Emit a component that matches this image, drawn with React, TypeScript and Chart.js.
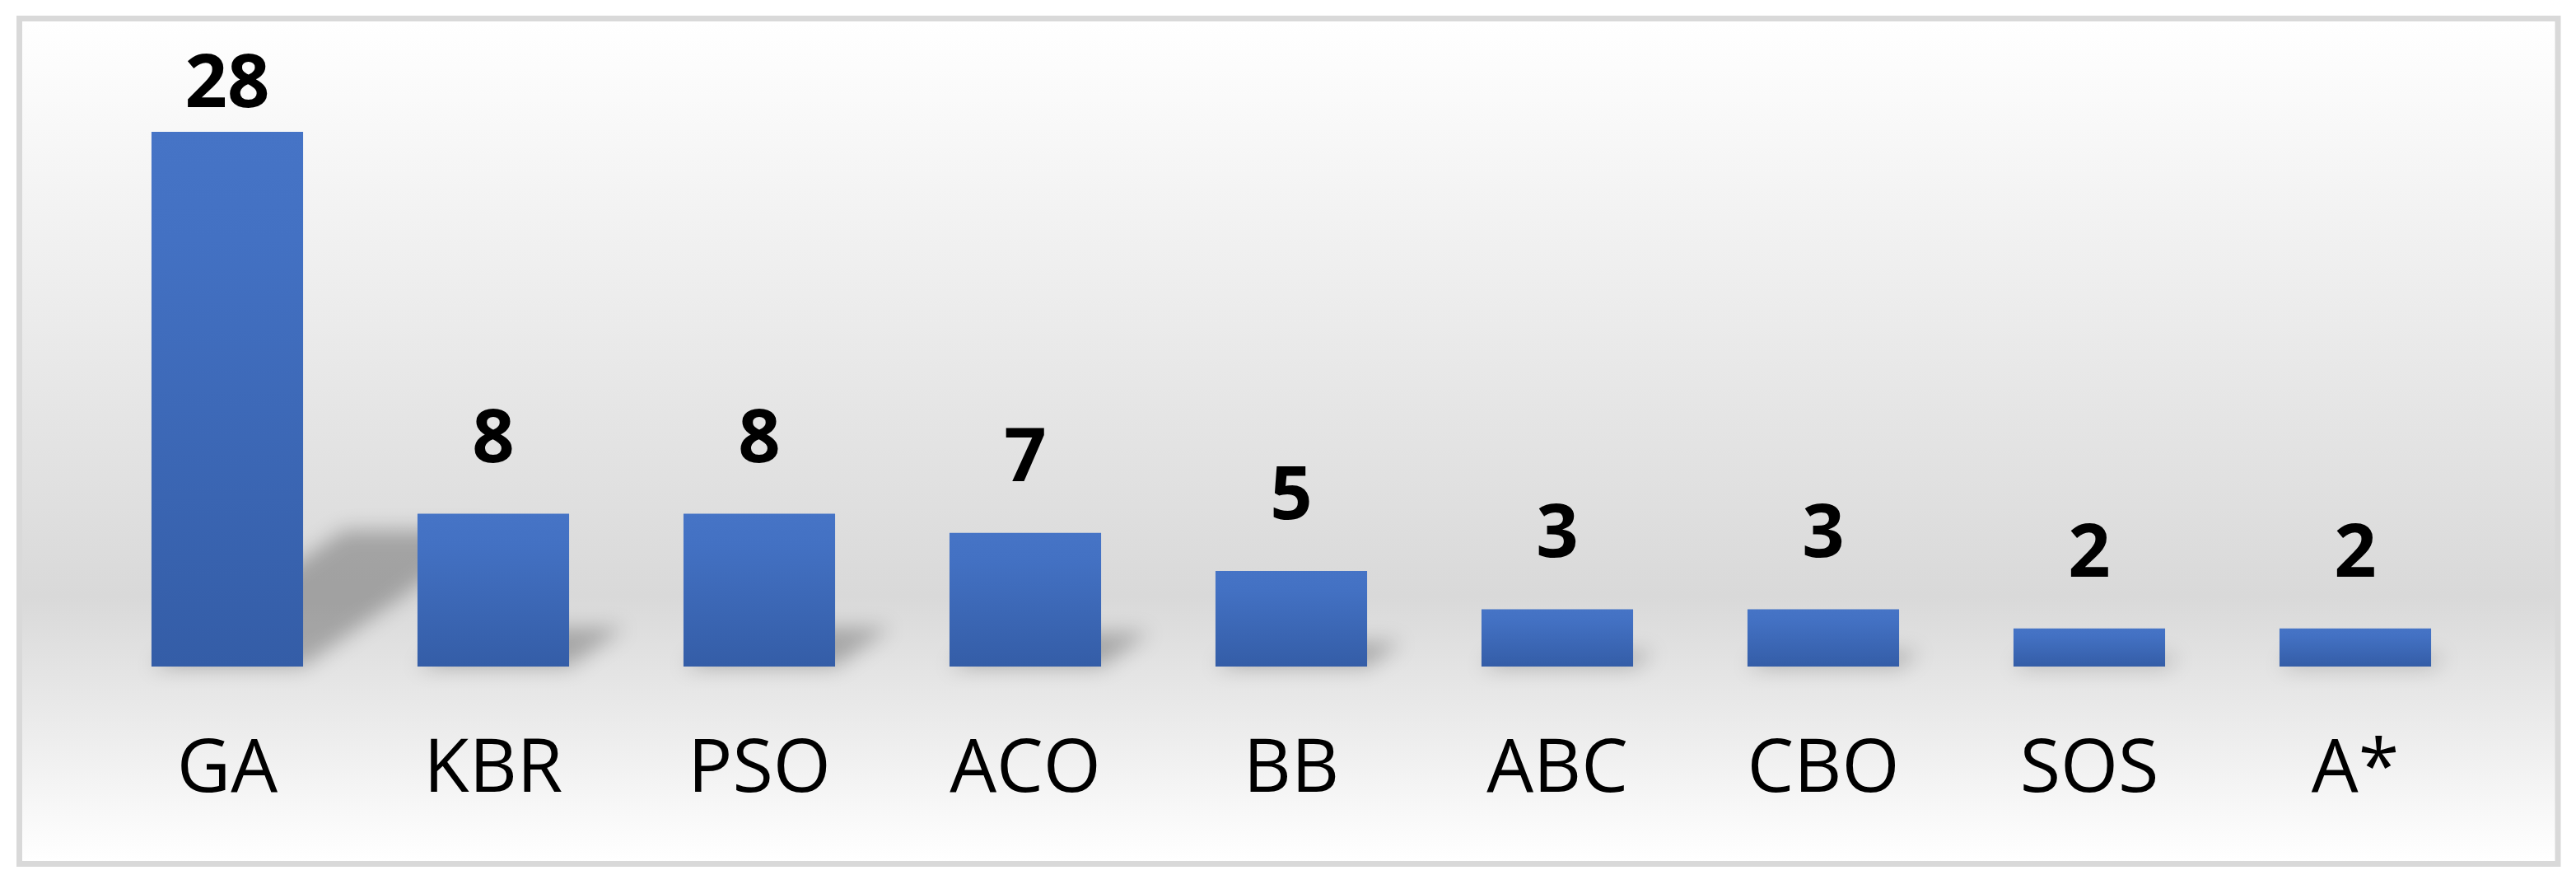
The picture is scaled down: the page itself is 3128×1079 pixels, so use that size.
import React, { useEffect, useRef } from "react";
import { Chart, registerables } from "chart.js";

Chart.register(...registerables);

const categories = ["GA", "KBR", "PSO", "ACO", "BB", "ABC", "CBO", "SOS", "A*"];
const counts = [28, 8, 8, 7, 5, 3, 3, 2, 2];
const yMin = 0;
const yMax = 28;

const W = 3128;
const H = 1079;
const FONT = "'Open Sans', 'Noto Sans', sans-serif";

const framePlugin = {
  id: "frame",
  beforeDraw(chart: any) {
    const ctx = chart.ctx;
    ctx.save();
    ctx.fillStyle = "#ffffff";
    ctx.fillRect(0, 0, W, H);
    const top = 26, bottom = 1045;
    const g = ctx.createLinearGradient(0, top, 0, bottom);
    g.addColorStop(0, "#ffffff");
    g.addColorStop(0.685, "#d9d9d9");
    g.addColorStop(1, "#ffffff");
    ctx.fillStyle = g;
    ctx.fillRect(26, top, 3103 - 26, bottom - top);
    ctx.strokeStyle = "#d9d9d9";
    ctx.lineWidth = 7;
    ctx.strokeRect(23.5, 22.5, 3106 - 23.5, 1048.5 - 22.5);
    ctx.restore();
  },
};

const shadowPlugin = {
  id: "barShadow",
  beforeDatasetsDraw(chart: any) {
    const ctx = chart.ctx;
    const meta = chart.getDatasetMeta(0);
    meta.data.forEach((bar: any) => {
      const { x, y, base, width } = bar.getProps(["x", "y", "base", "width"], true);
      const h = base - y;
      const L = x - width / 2;
      const R = x + width / 2;
      ctx.save();
      ctx.filter = "blur(12px)";
      ctx.fillStyle = "rgba(0,0,0,0.26)";
      ctx.beginPath();
      ctx.moveTo(L, base);
      ctx.lineTo(R, base);
      ctx.lineTo(R + 0.36 * h, base - 0.255 * h);
      ctx.lineTo(L + 0.36 * h, base - 0.255 * h);
      ctx.closePath();
      ctx.fill();
      ctx.restore();
    });
  },
};

const labelPlugin = {
  id: "valueLabels",
  afterDatasetsDraw(chart: any) {
    const ctx = chart.ctx;
    const meta = chart.getDatasetMeta(0);
    ctx.save();
    ctx.font = `bold 90px ${FONT}`;
    ctx.fillStyle = "#000000";
    ctx.textAlign = "center";
    ctx.textBaseline = "alphabetic";
    meta.data.forEach((bar: any, i: number) => {
      const { x, y } = bar.getProps(["x", "y"], true);
      const ty = Math.max(y - 63, chart.chartArea.top - 30);
      ctx.fillText(String(counts[i]), x, ty);
    });
    ctx.restore();
  },
};

function barGradient(context: any) {
  const chart = context.chart;
  const yScale = chart.scales && chart.scales.y;
  const i = context.dataIndex;
  if (!yScale || i === undefined || !isFinite(yScale.getPixelForValue(0))) return "#4472c4";
  const top = yScale.getPixelForValue(counts[i]);
  const bottom = yScale.getPixelForValue(0);
  if (!isFinite(top) || !isFinite(bottom) || top === bottom) return "#4472c4";
  const g = chart.ctx.createLinearGradient(0, top, 0, bottom);
  g.addColorStop(0, "#4674c6");
  g.addColorStop(0.2, "#4371c3");
  g.addColorStop(1, "#345da7");
  return g;
}

export default function App() {
  const ref = useRef<HTMLCanvasElement | null>(null);
  useEffect(() => {
    const canvas = ref.current;
    if (!canvas) return;
    const chart = new Chart(canvas, {
      type: "bar",
      data: {
        labels: categories,
        datasets: [
          {
            data: counts,
            backgroundColor: barGradient,
            borderWidth: 0,
            categoryPercentage: 1,
            barPercentage: 0.57,
          },
        ],
      },
      options: {
        responsive: false,
        animation: false,
        devicePixelRatio: 1,
        layout: { padding: { left: 114.5, right: 106.5, top: 160, bottom: 0 } },
        plugins: { legend: { display: false }, tooltip: { enabled: false } },
        scales: {
          x: {
            grid: { display: false, drawTicks: false },
            border: { display: false },
            ticks: {
              color: "#000000",
              font: { family: FONT, size: 90, lineHeight: 1.2 },
              padding: 72,
              maxRotation: 0,
              autoSkip: false,
            },
            afterFit: (scale: any) => {
              scale.height = H - 809;
            },
          },
          y: { display: false, min: yMin, max: yMax },
        },
      },
      plugins: [framePlugin, shadowPlugin, labelPlugin],
    });
    return () => chart.destroy();
  }, []);
  return (
    <div style={{ position: "absolute", left: 0, top: 0, width: W, height: H }}>
      <canvas ref={ref} width={W} height={H} style={{ width: W, height: H, display: "block" }} />
    </div>
  );
}
